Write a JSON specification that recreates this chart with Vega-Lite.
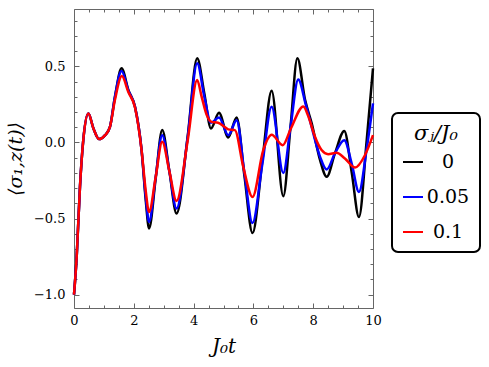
{
  "$schema": "https://vega.github.io/schema/vega-lite/v6.json",
  "width": 299,
  "height": 299,
  "autosize": "none",
  "padding": {"left": 74, "top": 9, "right": 116, "bottom": 59},
  "config": {
    "view": {"stroke": null},
    "font": "DejaVu Serif",
    "axis": {
      "domainColor": "#666666",
      "domainWidth": 1,
      "tickColor": "#666666",
      "tickWidth": 1,
      "labelColor": "#000000",
      "labelFont": "DejaVu Serif",
      "labelFontSize": 13,
      "grid": false,
      "titleFont": "DejaVu Serif",
      "titleFontWeight": "normal",
      "titleFontStyle": "italic",
      "titleColor": "#000000"
    }
  },
  "data": {
    "values": [
      {"s": "0", "t": 0, "v": -1.0}, {"s": "0", "t": 0.09, "v": -0.75}, {"s": "0", "t": 0.2, "v": -0.29}, {"s": "0", "t": 0.31, "v": 0.015}, {"s": "0", "t": 0.48, "v": 0.19}, {"s": "0", "t": 0.65, "v": 0.092}, {"s": "0", "t": 0.84, "v": 0.022}, {"s": "0", "t": 1.04, "v": 0.048}, {"s": "0", "t": 1.2, "v": 0.1}, {"s": "0", "t": 1.37, "v": 0.3},
      {"s": "0", "t": 1.59, "v": 0.487}, {"s": "0", "t": 1.82, "v": 0.344}, {"s": "0", "t": 2.04, "v": 0.234}, {"s": "0", "t": 2.26, "v": -0.05}, {"s": "0", "t": 2.4, "v": -0.38}, {"s": "0", "t": 2.51, "v": -0.566}, {"s": "0", "t": 2.73, "v": -0.24}, {"s": "0", "t": 2.95, "v": 0.081}, {"s": "0", "t": 3.19, "v": -0.19}, {"s": "0", "t": 3.43, "v": -0.467}, {"s": "0", "t": 3.8, "v": 0.037}, {"s": "0", "t": 4.12, "v": 0.553}, {"s": "0", "t": 4.36, "v": 0.32}, {"s": "0", "t": 4.58, "v": 0.092}, {"s": "0", "t": 4.85, "v": 0.195}, {"s": "0", "t": 5.16, "v": 0.033}, {"s": "0", "t": 5.44, "v": 0.164}, {"s": "0", "t": 5.7, "v": -0.22}, {"s": "0", "t": 5.97, "v": -0.595}, {"s": "0", "t": 6.3, "v": -0.12}, {"s": "0", "t": 6.61, "v": 0.34}, {"s": "0", "t": 7.0, "v": -0.353}, {"s": "0", "t": 7.24, "v": 0.1}, {"s": "0", "t": 7.47, "v": 0.553}, {"s": "0", "t": 7.73, "v": 0.278}, {"s": "0", "t": 7.95, "v": 0.125}, {"s": "0", "t": 8.23, "v": -0.116}, {"s": "0", "t": 8.45, "v": -0.226}, {"s": "0", "t": 8.73, "v": -0.07}, {"s": "0", "t": 9.04, "v": 0.076}, {"s": "0", "t": 9.29, "v": -0.2}, {"s": "0", "t": 9.53, "v": -0.49}, {"s": "0", "t": 9.79, "v": 0.015}, {"s": "0", "t": 10, "v": 0.487},
      {"s": "0.05", "t": 0, "v": -1.0}, {"s": "0.05", "t": 0.09, "v": -0.75}, {"s": "0.05", "t": 0.2, "v": -0.29}, {"s": "0.05", "t": 0.31, "v": 0.015}, {"s": "0.05", "t": 0.48, "v": 0.19}, {"s": "0.05", "t": 0.65, "v": 0.092}, {"s": "0.05", "t": 0.84, "v": 0.022}, {"s": "0.05", "t": 1.04, "v": 0.048}, {"s": "0.05", "t": 1.2, "v": 0.1}, {"s": "0.05", "t": 1.37, "v": 0.3},
      {"s": "0.05", "t": 1.59, "v": 0.47}, {"s": "0.05", "t": 1.82, "v": 0.34}, {"s": "0.05", "t": 2.04, "v": 0.234}, {"s": "0.05", "t": 2.26, "v": -0.05}, {"s": "0.05", "t": 2.4, "v": -0.36}, {"s": "0.05", "t": 2.51, "v": -0.522}, {"s": "0.05", "t": 2.73, "v": -0.23}, {"s": "0.05", "t": 2.95, "v": 0.048}, {"s": "0.05", "t": 3.19, "v": -0.19}, {"s": "0.05", "t": 3.43, "v": -0.434}, {"s": "0.05", "t": 3.8, "v": 0.03}, {"s": "0.05", "t": 4.12, "v": 0.52}, {"s": "0.05", "t": 4.36, "v": 0.3}, {"s": "0.05", "t": 4.58, "v": 0.129}, {"s": "0.05", "t": 4.85, "v": 0.164}, {"s": "0.05", "t": 5.16, "v": 0.048}, {"s": "0.05", "t": 5.44, "v": 0.146}, {"s": "0.05", "t": 5.7, "v": -0.2}, {"s": "0.05", "t": 5.97, "v": -0.529}, {"s": "0.05", "t": 6.3, "v": -0.14}, {"s": "0.05", "t": 6.61, "v": 0.234}, {"s": "0.05", "t": 7.0, "v": -0.2}, {"s": "0.05", "t": 7.24, "v": 0.1}, {"s": "0.05", "t": 7.5, "v": 0.414}, {"s": "0.05", "t": 7.75, "v": 0.25}, {"s": "0.05", "t": 7.95, "v": 0.1}, {"s": "0.05", "t": 8.23, "v": -0.095}, {"s": "0.05", "t": 8.45, "v": -0.178}, {"s": "0.05", "t": 8.73, "v": -0.07}, {"s": "0.05", "t": 9.04, "v": 0.015}, {"s": "0.05", "t": 9.29, "v": -0.14}, {"s": "0.05", "t": 9.53, "v": -0.325}, {"s": "0.05", "t": 9.79, "v": -0.04}, {"s": "0.05", "t": 10, "v": 0.257},
      {"s": "0.1", "t": 0, "v": -1.0}, {"s": "0.1", "t": 0.09, "v": -0.75}, {"s": "0.1", "t": 0.2, "v": -0.29}, {"s": "0.1", "t": 0.31, "v": 0.015}, {"s": "0.1", "t": 0.48, "v": 0.19}, {"s": "0.1", "t": 0.65, "v": 0.092}, {"s": "0.1", "t": 0.84, "v": 0.022}, {"s": "0.1", "t": 1.04, "v": 0.048}, {"s": "0.1", "t": 1.2, "v": 0.1}, {"s": "0.1", "t": 1.37, "v": 0.28},
      {"s": "0.1", "t": 1.6, "v": 0.436}, {"s": "0.1", "t": 1.82, "v": 0.33}, {"s": "0.1", "t": 2.04, "v": 0.23}, {"s": "0.1", "t": 2.26, "v": -0.05}, {"s": "0.1", "t": 2.4, "v": -0.32}, {"s": "0.1", "t": 2.51, "v": -0.457}, {"s": "0.1", "t": 2.73, "v": -0.23}, {"s": "0.1", "t": 2.95, "v": 0.004}, {"s": "0.1", "t": 3.19, "v": -0.19}, {"s": "0.1", "t": 3.43, "v": -0.384}, {"s": "0.1", "t": 3.8, "v": 0.01}, {"s": "0.1", "t": 4.12, "v": 0.41}, {"s": "0.1", "t": 4.27, "v": 0.3}, {"s": "0.1", "t": 4.44, "v": 0.18}, {"s": "0.1", "t": 4.6, "v": 0.135}, {"s": "0.1", "t": 4.82, "v": 0.13}, {"s": "0.1", "t": 5.05, "v": 0.1}, {"s": "0.1", "t": 5.16, "v": 0.086}, {"s": "0.1", "t": 5.38, "v": 0.081}, {"s": "0.1", "t": 5.66, "v": -0.16}, {"s": "0.1", "t": 5.97, "v": -0.358}, {"s": "0.1", "t": 6.33, "v": -0.05}, {"s": "0.1", "t": 6.61, "v": 0.05}, {"s": "0.1", "t": 6.98, "v": -0.018}, {"s": "0.1", "t": 7.25, "v": 0.09}, {"s": "0.1", "t": 7.67, "v": 0.237}, {"s": "0.1", "t": 7.84, "v": 0.17}, {"s": "0.1", "t": 8.06, "v": 0.037}, {"s": "0.1", "t": 8.28, "v": -0.05}, {"s": "0.1", "t": 8.5, "v": -0.077}, {"s": "0.1", "t": 8.78, "v": -0.068}, {"s": "0.1", "t": 9.06, "v": -0.105}, {"s": "0.1", "t": 9.4, "v": -0.165}, {"s": "0.1", "t": 9.73, "v": -0.084}, {"s": "0.1", "t": 10, "v": 0.048}
    ]
  },
  "layer": [
    {
      "mark": {"type": "line", "interpolate": "monotone", "strokeWidth": 2.5},
      "encoding": {
        "x": {
          "field": "t", "type": "quantitative",
          "scale": {"domain": [0, 10], "nice": false, "zero": false},
          "axis": {
            "orient": "bottom",
            "values": [0, 0.5, 1, 1.5, 2, 2.5, 3, 3.5, 4, 4.5, 5, 5.5, 6, 6.5, 7, 7.5, 8, 8.5, 9, 9.5, 10],
            "labelExpr": "datum.value % 2 == 0 ? format(datum.value, 'd') : ''",
            "tickSize": {"condition": {"test": "datum.value % 2 == 0", "value": -5}, "value": -3},
            "labelPadding": 11,
            "labelFlush": false,
            "title": "J₀t",
            "titleFontSize": 20,
            "titlePadding": 9
          }
        },
        "y": {
          "field": "v", "type": "quantitative",
          "scale": {"domain": [-1.088, 0.877], "nice": false, "zero": false},
          "axis": {
            "orient": "left",
            "values": [-1.0, -0.9, -0.8, -0.7, -0.6, -0.5, -0.4, -0.3, -0.2, -0.1, 0, 0.1, 0.2, 0.3, 0.4, 0.5, 0.6, 0.7, 0.8],
            "labelExpr": "abs(datum.value * 2 - round(datum.value * 2)) < 0.000001 ? format(datum.value, '.1f') : ''",
            "tickSize": {"condition": {"test": "abs(datum.value * 2 - round(datum.value * 2)) < 0.000001", "value": -5}, "value": -3},
            "labelPadding": 14,
            "labelFlush": false,
            "title": "⟨σ₁,z(t)⟩",
            "titleFontSize": 19,
            "titlePadding": 8
          }
        },
        "color": {
          "field": "s", "type": "nominal",
          "scale": {"domain": ["0", "0.05", "0.1"], "range": ["#000000", "#0000ff", "#ff0000"]},
          "legend": {
            "orient": "none",
            "legendX": 318,
            "legendY": 104,
            "title": "σⱼ/J₀",
            "titleFont": "DejaVu Serif",
            "titleFontSize": 21,
            "titleFontStyle": "italic",
            "titleFontWeight": "normal",
            "titleAnchor": "middle",
            "titlePadding": 7,
            "labelFont": "DejaVu Serif",
            "labelFontSize": 19,
            "labelAlign": "center",
            "labelOffset": 24,
            "symbolType": "stroke",
            "symbolSize": 400,
            "symbolStrokeWidth": 2,
            "rowPadding": 14,
            "padding": 10,
            "strokeColor": "#000000",
            "cornerRadius": 6,
            "encode": {"legend": {"update": {"strokeWidth": {"value": 2}}}}
          }
        }
      }
    },
    {
      "mark": {"type": "line", "strokeOpacity": 0},
      "encoding": {
        "x": {
          "field": "t", "type": "quantitative",
          "axis": {
            "orient": "top",
            "values": [0, 0.5, 1, 1.5, 2, 2.5, 3, 3.5, 4, 4.5, 5, 5.5, 6, 6.5, 7, 7.5, 8, 8.5, 9, 9.5, 10],
            "labels": false,
            "title": null,
            "tickSize": {"condition": {"test": "datum.value % 2 == 0", "value": -5}, "value": -3}
          }
        },
        "y": {
          "field": "v", "type": "quantitative",
          "axis": {
            "orient": "right",
            "values": [-1.0, -0.9, -0.8, -0.7, -0.6, -0.5, -0.4, -0.3, -0.2, -0.1, 0, 0.1, 0.2, 0.3, 0.4, 0.5, 0.6, 0.7, 0.8],
            "labels": false,
            "title": null,
            "tickSize": {"condition": {"test": "abs(datum.value * 2 - round(datum.value * 2)) < 0.000001", "value": -5}, "value": -3}
          }
        },
        "detail": {"field": "s"}
      }
    }
  ],
  "resolve": {"axis": {"x": "independent", "y": "independent"}}
}
